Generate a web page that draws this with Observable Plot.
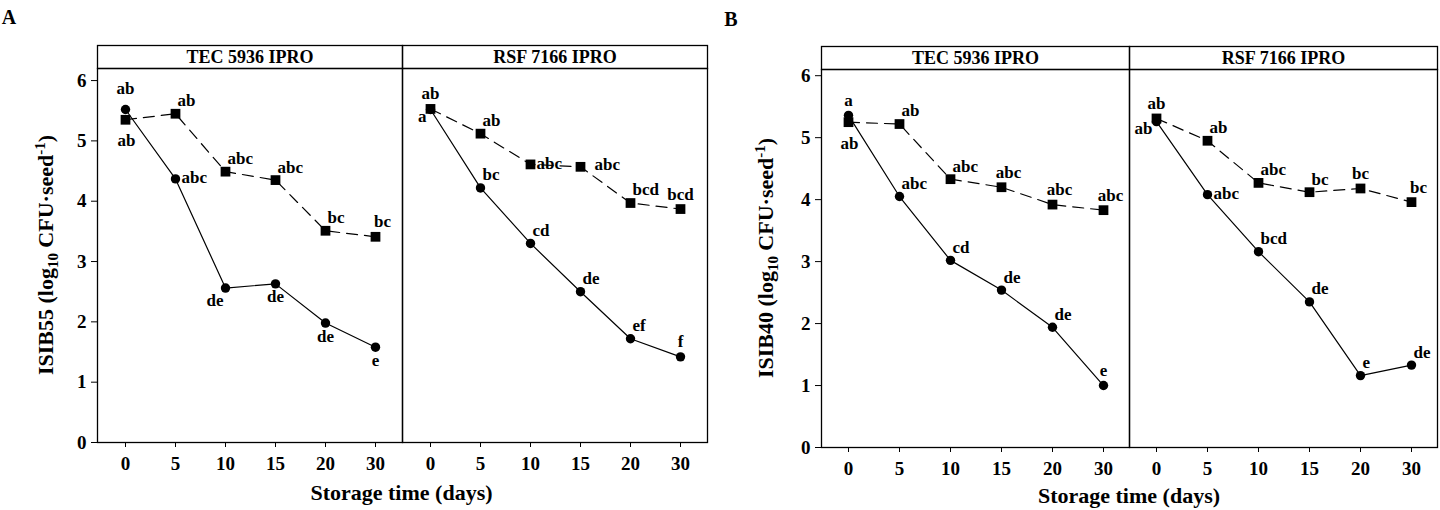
<!DOCTYPE html>
<html>
<head>
<meta charset="utf-8">
<script src="https://cdn.jsdelivr.net/npm/d3@7"></script>
<script src="https://cdn.jsdelivr.net/npm/@observablehq/plot@0.6"></script>
<style>
  html, body { margin: 0; padding: 0; background: #fff; }
  #wrap { display: flex; width: 1440px; height: 510px; }
  #wrap svg { display: block; }
</style>
</head>
<body>
<div id="wrap"></div>
<script>
// ---- categories ----
const days = ["0", "5", "10", "15", "20", "30"];
const cultivars = ["TEC 5936 IPRO", "RSF 7166 IPRO"];
const yTicks = [0, 1, 2, 3, 4, 5, 6];

// ---- Panel A: ISIB55 (log10 CFU·seed-1) ----
const aTecCircle = [5.52, 4.37, 2.56, 2.63, 1.98, 1.58];
const aTecSquare = [5.35, 5.45, 4.49, 4.35, 3.51, 3.41];
const aRsfCircle = [5.52, 4.22, 3.30, 2.50, 1.72, 1.42];
const aRsfSquare = [5.53, 5.12, 4.61, 4.57, 3.97, 3.87];
const aTecCircleLetters = ["ab", "abc", "de", "de", "de", "e"];
const aTecSquareLetters = ["ab", "ab", "abc", "abc", "bc", "bc"];
const aRsfCircleLetters = ["a", "bc", "cd", "de", "ef", "f"];
const aRsfSquareLetters = ["ab", "ab", "abc", "abc", "bcd", "bcd"];

// ---- Panel B: ISIB40 (log10 CFU·seed-1) ----
const bTecCircle = [5.36, 4.05, 3.02, 2.54, 1.94, 1.00];
const bTecSquare = [5.25, 5.22, 4.33, 4.20, 3.92, 3.83];
const bRsfCircle = [5.26, 4.08, 3.16, 2.35, 1.16, 1.33];
const bRsfSquare = [5.31, 4.95, 4.27, 4.12, 4.18, 3.96];
const bTecCircleLetters = ["a", "abc", "cd", "de", "de", "e"];
const bTecSquareLetters = ["ab", "ab", "abc", "abc", "abc", "abc"];
const bRsfCircleLetters = ["ab", "abc", "bcd", "de", "e", "de"];
const bRsfSquareLetters = ["ab", "ab", "abc", "bc", "bc", "bc"];

// ---- letter placement codes (layout only) ----
const aTecCirclePlace = ["N2", "E", "SW", "S", "S", "S"];
const aTecSquarePlace = ["S2", "NE", "NE", "NE", "NE", "Nr"];
const aRsfCirclePlace = ["W", "NE", "NE", "NE", "NE", "N"];
const aRsfSquarePlace = ["N", "NE", "E", "E2", "NE", "N"];
const bTecCirclePlace = ["N", "NE", "NE", "NE", "NE", "N"];
const bTecSquarePlace = ["S2", "NE", "NE", "Nr", "Nr", "Nr"];
const bRsfCirclePlace = ["W", "E", "NE", "NE", "NE", "NE"];
const bRsfSquarePlace = ["N", "NE", "NE", "NE", "N", "Nr"];

function rows(cultivar, series, values, letters, place) {
  return values.map((v, i) => ({cultivar, series, day: days[i], value: v, letter: letters[i], place: place[i]}));
}

const panelA = [
  ...rows(cultivars[0], "circle", aTecCircle, aTecCircleLetters, aTecCirclePlace),
  ...rows(cultivars[0], "square", aTecSquare, aTecSquareLetters, aTecSquarePlace),
  ...rows(cultivars[1], "circle", aRsfCircle, aRsfCircleLetters, aRsfCirclePlace),
  ...rows(cultivars[1], "square", aRsfSquare, aRsfSquareLetters, aRsfSquarePlace)
];
const panelB = [
  ...rows(cultivars[0], "circle", bTecCircle, bTecCircleLetters, bTecCirclePlace),
  ...rows(cultivars[0], "square", bTecSquare, bTecSquareLetters, bTecSquarePlace),
  ...rows(cultivars[1], "circle", bRsfCircle, bRsfCircleLetters, bRsfCirclePlace),
  ...rows(cultivars[1], "square", bRsfSquare, bRsfSquareLetters, bRsfSquarePlace)
];

const placeStyle = {
  N:  {textAnchor: "middle", dx: 0, dy: -15},
  Nr: {textAnchor: "middle", dx: 7, dy: -15},
  N2: {textAnchor: "middle", dx: 0, dy: -21},
  S:  {textAnchor: "middle", dx: 0, dy: 13},
  S2: {textAnchor: "middle", dx: 1, dy: 21},
  NE: {textAnchor: "start", dx: 2, dy: -13},
  E:  {textAnchor: "start", dx: 6, dy: -1},
  E2: {textAnchor: "start", dx: 14, dy: -2},
  W:  {textAnchor: "end", dx: -4, dy: 7},
  SW: {textAnchor: "end", dx: -2, dy: 12}
};

const FONT = "'Liberation Serif', 'Times New Roman', serif";

function makePanel(data, opts) {
  const {width, height, ml, mr, mt, mb, yTop, letter, ylabel} = opts;
  const plotH = height - mt - mb;
  const circles = data.filter(d => d.series === "circle");
  const squares = data.filter(d => d.series === "square");
  const textMarks = Object.entries(placeStyle).map(([code, s]) =>
    Plot.text(data.filter(d => d.place === code), {
      x: "day", y: "value", fx: "cultivar", text: "letter",
      textAnchor: s.textAnchor, dx: s.dx, dy: s.dy,
      fontSize: 17, fontWeight: "bold", fill: "#000"
    })
  );
  const svg = Plot.plot({
    width, height,
    marginLeft: ml, marginRight: mr, marginTop: mt, marginBottom: mb,
    style: {fontFamily: FONT, fontWeight: "bold", fontSize: "19px", color: "#000", background: "transparent", overflow: "visible"},
    fx: {domain: cultivars, padding: 0, axis: null, label: null},
    x: {type: "point", domain: days, padding: 0.5},
    y: {domain: [0, yTop]},
    marks: [
      Plot.axisX({tickSize: 5, tickPadding: 9, label: null, fontSize: 19, fontWeight: "bold", stroke: "#000", fill: "#000"}),
      Plot.axisY({ticks: yTicks, tickSize: 6, tickPadding: 5, label: null, fontSize: 19, fontWeight: "bold", tickFormat: d3.format("d"), stroke: "#000", fill: "#000"}),
      Plot.frame({stroke: "#000", strokeWidth: 1.3}),
      Plot.frame({stroke: "#000", strokeWidth: 1.3, insetTop: -23, insetBottom: plotH}),
      Plot.text(cultivars, {fx: d => d, text: d => d, frameAnchor: "top", lineAnchor: "middle", dy: -11, fontSize: 18, fontWeight: "bold", fill: "#000"}),
      Plot.line(squares, {x: "day", y: "value", fx: "cultivar", stroke: "#000", strokeWidth: 1.2, strokeDasharray: "11,7"}),
      Plot.line(circles, {x: "day", y: "value", fx: "cultivar", stroke: "#000", strokeWidth: 1.2}),
      Plot.dot(squares, {x: "day", y: "value", fx: "cultivar", symbol: "square", r: 5.5, fill: "#000", stroke: "none"}),
      Plot.dot(circles, {x: "day", y: "value", fx: "cultivar", symbol: "circle", r: 4.7, fill: "#000", stroke: "none"}),
      ...textMarks
    ]
  });
  const s = d3.select(svg);
  // panel letter
  s.append("text").attr("x", opts.letterX).attr("y", opts.letterY)
    .attr("font-family", FONT).attr("font-weight", "bold").attr("font-size", 20).attr("fill", "#000")
    .text(letter);
  // y axis title with subscript / superscript
  const yt = s.append("text")
    .attr("transform", `translate(${opts.ylabelX},${mt + plotH / 2}) rotate(-90)`)
    .attr("text-anchor", "middle")
    .attr("font-family", FONT).attr("font-weight", "bold").attr("font-size", 22).attr("fill", "#000");
  yt.append("tspan").text(ylabel + " (log");
  yt.append("tspan").attr("font-size", 15).attr("dy", 5).text("10");
  yt.append("tspan").attr("dy", -5).text(" CFU·seed");
  yt.append("tspan").attr("font-size", 15).attr("dy", -8).text("-1");
  yt.append("tspan").attr("dy", 8).text(")");
  // x axis title
  s.append("text")
    .attr("x", ml + (width - ml - mr) / 2).attr("y", opts.xlabelY)
    .attr("text-anchor", "middle")
    .attr("font-family", FONT).attr("font-weight", "bold").attr("font-size", 22).attr("fill", "#000")
    .text("Storage time (days)");
  return svg;
}

const wrap = document.getElementById("wrap");
wrap.appendChild(makePanel(panelA, {
  width: 720, height: 510, ml: 96, mr: 13, mt: 68, mb: 68, yTop: 6.2,
  letter: "A", letterX: 9, letterY: 24, ylabel: "ISIB55", ylabelX: 53, xlabelY: 500
}));
wrap.appendChild(makePanel(panelB, {
  width: 720, height: 510, ml: 101, mr: 3, mt: 69, mb: 63, yTop: 6.1,
  letter: "B", letterX: 11, letterY: 26, ylabel: "ISIB40", ylabelX: 53, xlabelY: 503
}));
</script>
</body>
</html>
